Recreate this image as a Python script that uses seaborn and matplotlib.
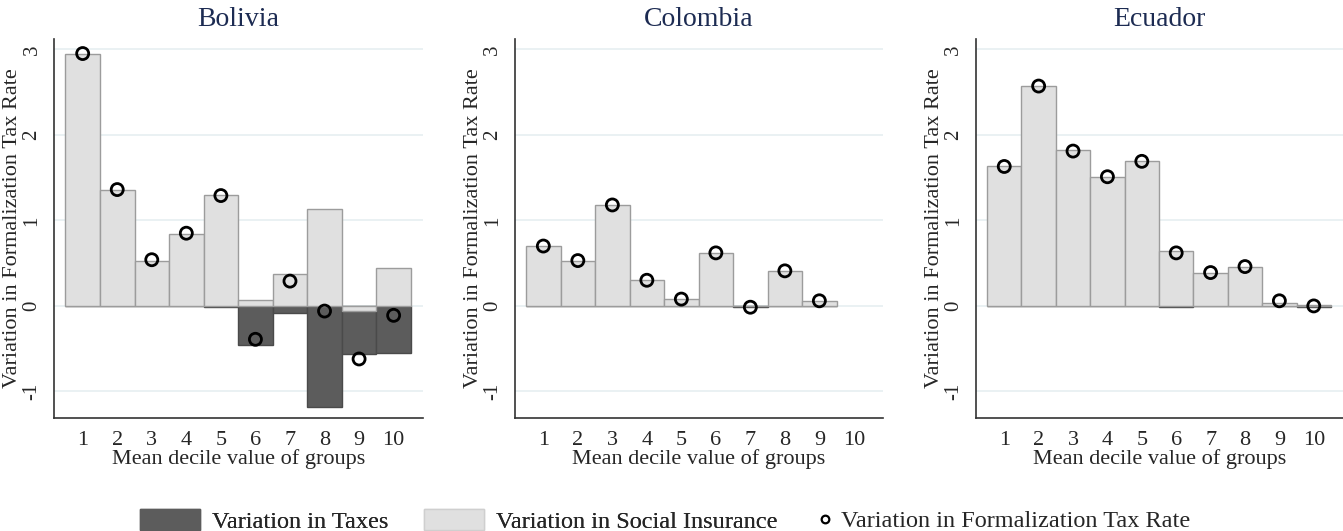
import numpy as np
import pandas as pd
import matplotlib
matplotlib.use("Agg")
import matplotlib.pyplot as plt
import seaborn as sns
from matplotlib.patches import Patch
from matplotlib.lines import Line2D

# ---------------- data ----------------
deciles = [1, 2, 3, 4, 5, 6, 7, 8, 9, 10]
countries = ["Bolivia", "Colombia", "Ecuador"]

bolivia_taxes = [0.0, 0.0, 0.0, 0.0, -0.015, -0.46, -0.08, -1.18, -0.56, -0.55]
bolivia_social = [2.95, 1.35, 0.52, 0.84, 1.30, 0.075, 0.37, 1.13, -0.06, 0.44]
bolivia_rate = [2.95, 1.36, 0.54, 0.85, 1.29, -0.39, 0.29, -0.06, -0.62, -0.11]

colombia_taxes = [0.0, -0.005, 0.0, 0.0, 0.0, -0.005, -0.01, 0.0, -0.005, np.nan]
colombia_social = [0.70, 0.53, 1.18, 0.30, 0.085, 0.62, 0.0, 0.41, 0.062, np.nan]
colombia_rate = [0.70, 0.53, 1.18, 0.30, 0.08, 0.62, -0.015, 0.41, 0.06, np.nan]

ecuador_taxes = [0.0, 0.0, 0.0, 0.0, 0.0, -0.01, 0.0, 0.0, 0.0, -0.01]
ecuador_social = [1.63, 2.57, 1.82, 1.51, 1.69, 0.64, 0.39, 0.46, 0.04, 0.01]
ecuador_rate = [1.63, 2.57, 1.81, 1.51, 1.69, 0.62, 0.39, 0.46, 0.06, 0.0]

y_ticks = [-1, 0, 1, 2, 3]
legend_labels = ["Variation in Taxes", "Variation in Social Insurance",
                 "Variation in Formalization Tax Rate"]
x_label = "Mean decile value of groups"
y_label = "Variation in Formalization Tax Rate"

panels = [
    (bolivia_taxes, bolivia_social, bolivia_rate),
    (colombia_taxes, colombia_social, colombia_rate),
    (ecuador_taxes, ecuador_social, ecuador_rate),
]

# ---------------- style ----------------
sns.set_style("white")
plt.rcParams["font.family"] = ["Liberation Serif", "DejaVu Serif"]

DARK = "#5c5c5c"
DARK_EDGE = "#4a4a4a"
LIGHT = "#e0e0e0"
LIGHT_EDGE = "#9c9c9c"
AX_COL = "#333333"
TITLE_COL = "#1c2b52"
GRID_COL = "#e6eff1"

W, H = 1343, 531
fig = plt.figure(figsize=(W / 100, H / 100), dpi=100)

lefts = [54, 514.7, 975.7]
widths = [369, 368.5, 367.3]
bottom = 1 - 418 / H
height = (418 - 39) / H

for i, (name, (tx, si, rate)) in enumerate(zip(countries, panels)):
    ax = fig.add_axes([lefts[i] / W, bottom, widths[i] / W, height])
    df = pd.DataFrame({"decile": deciles, "taxes": tx, "social": si, "rate": rate})
    for yv in y_ticks:
        ax.axhline(yv, color=GRID_COL, lw=1.2, zorder=0)
    sns.barplot(data=df, x="decile", y="taxes", native_scale=True, width=1,
                color=DARK, saturation=1, edgecolor=DARK_EDGE, linewidth=1,
                errorbar=None, ax=ax, zorder=2)
    sns.barplot(data=df, x="decile", y="social", native_scale=True, width=1,
                color=LIGHT, saturation=1, edgecolor=LIGHT_EDGE, linewidth=1,
                errorbar=None, ax=ax, zorder=3)
    sns.scatterplot(data=df.dropna(), x="decile", y="rate", marker="o", s=75,
                    facecolor="none", edgecolor="black", linewidth=2.0,
                    ax=ax, zorder=5)
    ax.set_xlim(0.17, 10.85)
    ax.set_ylim(-1.31, 3.12)
    ax.set_xticks(deciles)
    ax.set_xticklabels([str(d) for d in deciles], fontsize=16)
    ax.set_yticks(y_ticks)
    ax.set_yticklabels([str(v) for v in y_ticks], fontsize=15, rotation=90,
                       va="center")
    ax.tick_params(axis="both", direction="out", length=6, width=1.1,
                   color=AX_COL, pad=3)
    ax.tick_params(axis="x", pad=3.5)
    for s in ["top", "right"]:
        ax.spines[s].set_visible(False)
    for s in ["left", "bottom"]:
        ax.spines[s].set_color(AX_COL)
        ax.spines[s].set_linewidth(1.2)
    ax.set_xlabel(x_label, fontsize=16, labelpad=-1)
    ax.set_ylabel(y_label, fontsize=16, labelpad=0.5)
    ax.set_title(name, fontsize=20, color=TITLE_COL, pad=9)
    ax.grid(False)

patch_handles = [
    Patch(facecolor=DARK, edgecolor=DARK),
    Patch(facecolor=LIGHT, edgecolor="#cfcfcf"),
]
marker_handle = Line2D([], [], linestyle="none", marker="o", markersize=5.5,
                       markerfacecolor="none", markeredgecolor="black",
                       markeredgewidth=1.6)
leg1 = fig.legend(patch_handles, legend_labels[:2], loc="center left", ncol=2,
                  bbox_to_anchor=(140 / W, 1 - 521 / H), frameon=False,
                  fontsize=17.5, handlelength=2.47, handleheight=0.92,
                  handletextpad=0.49, columnspacing=1.45, borderpad=0,
                  borderaxespad=0)
fig.add_artist(leg1)
fig.legend([marker_handle], legend_labels[2:], loc="center left",
           bbox_to_anchor=(818 / W, 1 - 521 / H), frameon=False, fontsize=17.5,
           handlelength=0.58, handletextpad=0.38, borderpad=0, borderaxespad=0)

fig.savefig("out.png", dpi=100)
